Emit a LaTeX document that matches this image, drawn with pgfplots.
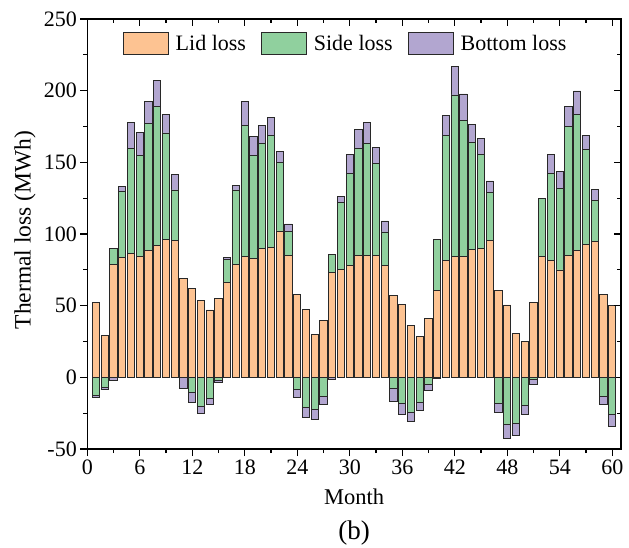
\documentclass[border=0pt]{standalone}
\usepackage{pgfplots}
\pgfplotsset{compat=1.18}
\usepackage{pgfplotstable}
\usepackage{fontspec}
\setmainfont{Liberation Serif}
\definecolor{lidc}{RGB}{253,195,146}
\definecolor{sidec}{RGB}{144,208,158}
\definecolor{botc}{RGB}{178,166,208}
\definecolor{edgec}{RGB}{40,40,40}

\pgfplotstableread{
m lid sp bp sn bn
1 52.3 0 0 -12.3 -1.9
2 29.5 0 0 -7.0 -1.4
3 78.6 11.2 0 0 -1.9
4 83.7 45.8 3.5 0 0
5 86.5 73.0 18.4 0 0
6 84.4 70.3 16.0 0 0
7 88.6 88.6 15.1 0 0
8 92.1 96.7 18.2 0 0
9 96.3 74.2 13.0 0 0
10 95.6 35.1 10.7 0 0
11 69.1 0 0 0 -7.9
12 62.3 0 0 -10.7 -6.5
13 53.3 0 0 -20.5 -4.4
14 47.0 0 0 -14.7 -4.4
15 54.7 0 0 -2.1 -1.4
16 66.3 16.0 1.2 0 0
17 78.8 51.9 3.3 0 0
18 84.2 91.6 16.5 0 0
19 83.0 71.7 13.4 0 0
20 90.0 73.3 12.7 0 0
21 90.7 77.9 12.6 0 0
22 102.1 47.9 7.4 0 0
23 85.1 16.5 5.4 0 0
24 57.9 0 0 -8.6 -5.4
25 47.4 0 0 -21.2 -6.5
26 30.2 0 0 -22.3 -6.8
27 39.8 0 0 -13.5 -5.1
28 73.3 12.5 0 0 -1.6
29 75.3 46.8 3.9 0 0
30 78.1 63.8 13.4 0 0
31 84.7 75.1 13.2 0 0
32 85.3 78.0 14.4 0 0
33 84.7 64.6 11.2 0 0
34 78.1 23.3 7.7 0 0
35 57.4 0 0 -7.7 -8.8
36 50.9 0 0 -18.1 -7.5
37 36.0 0 0 -24.4 -6.5
38 28.8 0 0 -17.4 -5.4
39 41.2 0 0 -4.7 -4.4
40 60.9 35.4 0 0 -1.0
41 81.2 87.6 13.8 0 0
42 84.2 112.8 19.7 0 0
43 84.0 95.1 18.6 0 0
44 89.5 74.2 12.6 0 0
45 90.0 65.6 11.1 0 0
46 95.8 33.3 7.9 0 0
47 60.9 0 0 -18.1 -6.6
48 50.5 0 0 -33.0 -9.6
49 30.5 0 0 -31.9 -8.3
50 24.9 0 0 -19.5 -6.3
51 52.3 0 0 -1.2 -3.5
52 84.4 40.7 0 0 0
53 81.2 60.7 13.9 0 0
54 74.9 57.0 11.6 0 0
55 85.1 89.8 13.9 0 0
56 88.6 95.1 16.1 0 0
57 93.0 66.3 9.3 0 0
58 95.1 28.4 7.7 0 0
59 57.9 0 0 -13.0 -5.8
60 50.0 0 0 -25.6 -8.4
}\lossdata

\begin{document}
\begin{tikzpicture}[font=\fontsize{22.5}{27}\selectfont]
\pgfplotsset{
  common/.style={
    at={(0,0)}, anchor=south west, scale only axis,
    width=533.7pt, height=430pt,
    xmin=0, xmax=61, ymin=-50, ymax=250,
    xtick={0,6,...,60}, ytick={-50,0,...,250},
    minor x tick num=1, minor y tick num=1,
    major tick length=7pt, minor tick length=4pt,
    axis line style={line width=1.2pt, black},
    every tick/.style={line width=1.2pt, black},
    ybar stacked, bar width=7.3pt,
    /pgf/number format/assume math mode=true,
    tick label style={font=\fontsize{22}{26}\selectfont},
  },
  barst/.style={draw=edgec, line width=0.9pt, fill=#1},
}
\begin{axis}[common, tick align=outside, xtick pos=left, ytick pos=left,
  legend columns=3,
  legend style={at={(0.484,0.942)}, anchor=center, draw=none, fill=none,
    font=\fontsize{22}{26}\selectfont,
    /tikz/every odd column/.append style={column sep=5pt},
    /tikz/every even column/.append style={column sep=13pt}},
  legend image code/.code={\draw[#1] (0pt,-11pt) rectangle (45pt,11pt);},
]
\addplot[barst=lidc] table[x=m,y=lid]{\lossdata};
\addplot[barst=sidec] table[x=m,y=sp]{\lossdata};
\addplot[barst=botc] table[x=m,y=bp]{\lossdata};
\legend{Lid loss, Side loss, Bottom loss}
\end{axis}
\begin{axis}[common, tick align=inside, xtick pos=right, ytick pos=right,
  xticklabels={}, yticklabels={}]
\addplot[barst=sidec] table[x=m,y=sn]{\lossdata};
\addplot[barst=botc] table[x=m,y=bn]{\lossdata};
\end{axis}
\node[rotate=90, font=\fontsize{23.5}{28}\selectfont] at (-62.3pt,219pt) {Thermal loss (MWh)};
\node at (266.85pt,-48pt) {Month};
\node[font=\fontsize{27}{32}\selectfont] at (266.85pt,-84pt) {(b)};
\pgfresetboundingbox
\path[use as bounding box] (-87.3pt,-98pt) rectangle (541.7pt,449pt);
\end{tikzpicture}
\end{document}
